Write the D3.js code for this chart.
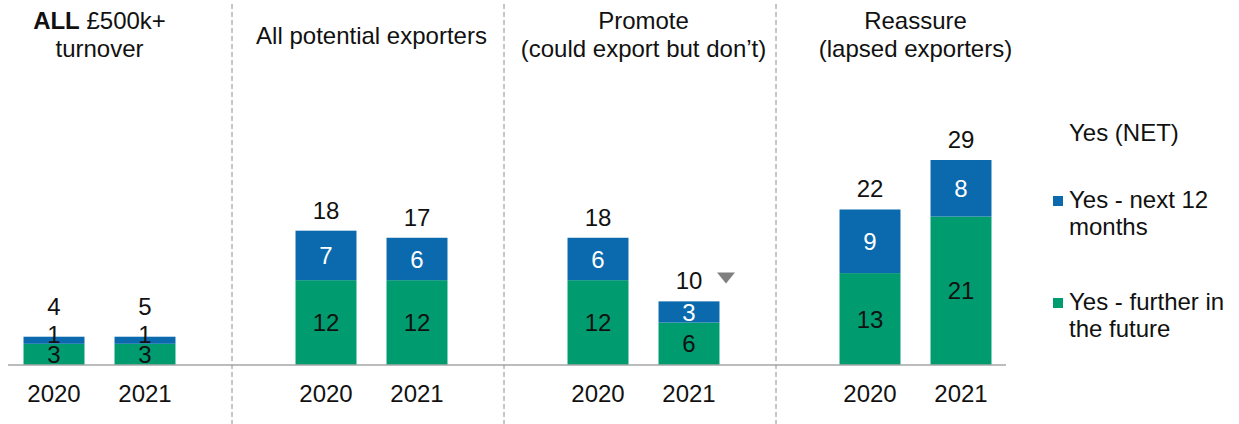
<!DOCTYPE html>
<html>
<head>
<meta charset="utf-8">
<script src="https://cdn.jsdelivr.net/npm/d3@7"></script>
<style>
  html, body { margin: 0; padding: 0; background: #fff; }
  svg { display: block; font-family: "Liberation Sans", Arial, sans-serif; }
</style>
</head>
<body>
<svg id="chart" width="1239" height="424"></svg>
<script>
// Segment groups and years
const groups = ["all", "potential", "promote", "reassure"];
const groupTitles = [
  [["ALL", " £500k+"], ["turnover"]],
  [["All potential exporters"]],
  [["Promote"], ["(could export but don’t)"]],
  [["Reassure"], ["(lapsed exporters)"]]
];
const years = ["2020", "2021"];

// Percentages per group, in year order
const nextTwelveMonths = [[1, 1], [7, 6], [6, 3], [9, 8]];
const furtherInFuture  = [[3, 3], [12, 12], [12, 6], [13, 21]];
const yesNet           = [[4, 5], [18, 17], [18, 10], [22, 29]];
// Significant decrease marker: [group index, year index]
const decreases = [[2, 1]];

const legendTitle = "Yes (NET)";
const legendItems = [
  { key: "next", lines: ["Yes - next 12", "months"] },
  { key: "further", lines: ["Yes - further in", "the future"] }
];

const colors = { next: "#0a6aad", further: "#009b6f" };
const textColor = "#111111";
const fontSize = 24;

const svg = d3.select("#chart");

const x0 = d3.scaleBand().domain(groups).range([-36.5, 1051.5]);
const x1 = d3.scaleBand().domain(years).range([45, 227]).paddingInner(0.33).paddingOuter(0.165);
const y = d3.scaleLinear().domain([0, 29]).range([365, 160]);

// Dashed group separators
svg.selectAll("line.sep")
  .data(groups.slice(1))
  .join("line")
  .attr("class", "sep")
  .attr("x1", d => x0(d) - 3.5).attr("x2", d => x0(d) - 3.5)
  .attr("y1", 4).attr("y2", 424)
  .attr("stroke", "#8c8c8c").attr("stroke-width", 1)
  .attr("stroke-dasharray", "5,3");

// Build stacked records
const records = [];
groups.forEach((g, gi) => {
  years.forEach((yr, yi) => {
    const f = furtherInFuture[gi][yi];
    const n = nextTwelveMonths[gi][yi];
    records.push({ g, gi, yr, yi, further: f, next: n, total: yesNet[gi][yi] });
  });
});

const bars = svg.append("g").selectAll("g.bar")
  .data(records)
  .join("g")
  .attr("class", "bar")
  .attr("transform", d => `translate(${x0(d.g) + x1(d.yr)},0)`);

const bw = x1.bandwidth();

// Green segment
bars.append("rect")
  .attr("x", 0).attr("width", bw)
  .attr("y", d => y(d.further))
  .attr("height", d => y(0) - y(d.further))
  .attr("fill", colors.further);

// Blue segment
bars.append("rect")
  .attr("x", 0).attr("width", bw)
  .attr("y", d => y(d.further + d.next))
  .attr("height", d => y(d.further) - y(d.further + d.next))
  .attr("fill", colors.next);

// Segment labels
bars.append("text")
  .attr("x", bw / 2)
  .attr("y", d => (y(0) + y(d.further)) / 2)
  .attr("dy", "0.36em")
  .attr("text-anchor", "middle")
  .attr("font-size", fontSize)
  .attr("fill", textColor)
  .text(d => d.further);

bars.append("text")
  .attr("x", bw / 2)
  .attr("y", d => {
    const h = y(d.further) - y(d.further + d.next);
    const c = (y(d.further) + y(d.further + d.next)) / 2;
    return h < 20 ? c - 6 : c;
  })
  .attr("dy", "0.36em")
  .attr("text-anchor", "middle")
  .attr("font-size", fontSize)
  .attr("fill", d => (y(d.further) - y(d.further + d.next)) < 20 ? textColor : "#ffffff")
  .text(d => d.next);

// Totals above bars
bars.append("text")
  .attr("x", bw / 2)
  .attr("y", d => Math.min(y(d.further + d.next) - 12, y(0) - 50))
  .attr("text-anchor", "middle")
  .attr("font-size", fontSize)
  .attr("fill", textColor)
  .text(d => d.total);

// Decrease markers
decreases.forEach(([gi, yi]) => {
  const d = records.find(r => r.gi === gi && r.yi === yi);
  const cx = x0(d.g) + x1(d.yr) + bw / 2 + 37;
  const top = Math.min(y(d.further + d.next) - 12, y(0) - 50) - 17;
  svg.append("path")
    .attr("d", `M${cx - 9},${top} L${cx + 9},${top} L${cx},${top + 11} Z`)
    .attr("fill", "#7f7f7f");
});

// Baseline
svg.append("line")
  .attr("x1", 8).attr("x2", 1006)
  .attr("y1", y(0)).attr("y2", y(0))
  .attr("stroke", "#a6a6a6").attr("stroke-width", 1.5);

// Year axis labels
const xAxisG = svg.append("g");
records.forEach(d => {
  xAxisG.append("text")
    .attr("x", x0(d.g) + x1(d.yr) + bw / 2)
    .attr("y", 402)
    .attr("text-anchor", "middle")
    .attr("font-size", fontSize)
    .attr("fill", textColor)
    .text(d.yr);
});

// Group titles
groups.forEach((g, gi) => {
  const lines = groupTitles[gi];
  const cx = x0(g) + x0.bandwidth() / 2;
  const baselines = lines.length === 1 ? [44] : [29, 57];
  lines.forEach((parts, li) => {
    const t = svg.append("text")
      .attr("x", cx).attr("y", baselines[li])
      .attr("text-anchor", "middle")
      .attr("font-size", fontSize)
      .attr("fill", textColor);
    parts.forEach((p, pi) => {
      t.append("tspan")
        .attr("font-weight", (gi === 0 && li === 0 && pi === 0) ? "bold" : "normal")
        .text(p);
    });
  });
});

// Legend
const lg = svg.append("g");
lg.append("text")
  .attr("x", 1069).attr("y", 141)
  .attr("font-size", fontSize).attr("fill", textColor)
  .text(legendTitle);
const legendTops = [208, 310];
legendItems.forEach((item, i) => {
  lg.append("rect")
    .attr("x", 1053).attr("y", legendTops[i] - 12)
    .attr("width", 10).attr("height", 10)
    .attr("fill", colors[item.key]);
  item.lines.forEach((line, li) => {
    lg.append("text")
      .attr("x", 1069).attr("y", legendTops[i] + li * 27)
      .attr("font-size", fontSize).attr("fill", textColor)
      .text(line);
  });
});
</script>
</body>
</html>
